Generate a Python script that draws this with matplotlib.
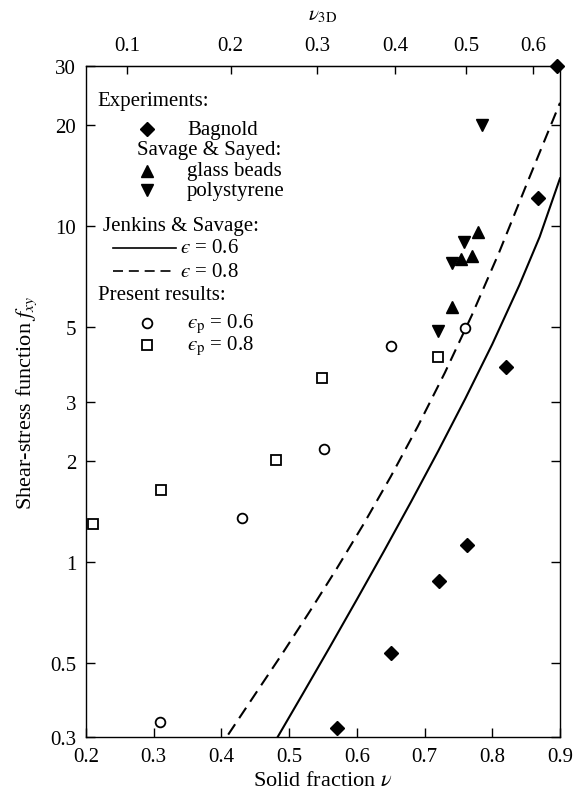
import numpy as np
import matplotlib
matplotlib.use("Agg")
import matplotlib.pyplot as plt
from matplotlib.ticker import FixedLocator, FuncFormatter, NullFormatter

plt.rcParams['font.family'] = ['Liberation Serif', 'DejaVu Serif']
plt.rcParams['mathtext.fontset'] = 'stix'

# experiments: Bagnold
bag_nu = [0.570, 0.651, 0.722, 0.763, 0.820, 0.868, 0.895]
bag_f = [0.319, 0.534, 0.875, 1.12, 3.80, 12.1, 30.0]
# Savage & Sayed, glass beads
gb_nu = [0.741, 0.754, 0.770, 0.779]
gb_f = [5.74, 8.0, 8.14, 9.6]
# Savage & Sayed, polystyrene
ps_nu = [0.720, 0.741, 0.758, 0.785]
ps_f = [4.87, 7.77, 8.96, 20.0]
# Jenkins & Savage theory
js06_nu = [0.483, 0.52, 0.56, 0.60, 0.64, 0.68, 0.72, 0.76, 0.80, 0.84, 0.87, 0.90]
js06_f = [0.300, 0.403, 0.556, 0.771, 1.074, 1.507, 2.133, 3.055, 4.446, 6.668, 9.29, 13.87]
js08_nu = [0.41, 0.45, 0.49, 0.53, 0.57, 0.61, 0.65, 0.69, 0.73, 0.77, 0.81, 0.85, 0.90]
js08_f = [0.305, 0.403, 0.532, 0.708, 0.951, 1.294, 1.791, 2.529, 3.656, 5.433, 8.337, 13.21, 23.3]
# present results
p06_nu = [0.309, 0.430, 0.551, 0.651, 0.760]
p06_f = [0.332, 1.35, 2.16, 4.39, 4.97]
p08_nu = [0.210, 0.3105, 0.480, 0.549, 0.720]
p08_f = [1.29, 1.64, 2.01, 3.52, 4.07]

xticks = [0.2, 0.3, 0.4, 0.5, 0.6, 0.7, 0.8, 0.9]
yticks = [0.3, 0.5, 1, 2, 3, 5, 10, 20, 30]
top_ticks = [0.1, 0.2, 0.3, 0.4, 0.5, 0.6]

C3D = 4.0 / (3.0 * np.sqrt(np.pi))


def to3d(nu):
    return C3D * np.abs(nu) ** 1.5


def from3d(v):
    return (np.abs(v) / C3D) ** (2.0 / 3.0)


fig = plt.figure(figsize=(5.74, 8.03), dpi=100)
ax = fig.add_axes([0.1498, 0.0809, 0.9756 - 0.1498, 0.9166 - 0.0809])

k = 'black'
dash = (0, (6, 3.5))
ax.plot(js06_nu, js06_f, '-', color=k, lw=1.5)
ax.plot(js08_nu, js08_f, color=k, lw=1.5, ls=dash)
ax.plot(bag_nu, bag_f, 'D', color=k, ms=7.5, ls='none', clip_on=False)
ax.plot(gb_nu, gb_f, '^', color=k, ms=9, ls='none')
ax.plot(ps_nu, ps_f, 'v', color=k, ms=9, ls='none')
ax.plot(p06_nu, p06_f, 'o', mfc='white', mec=k, mew=1.3, ms=7, ls='none')
ax.plot(p08_nu, p08_f, 's', mfc='white', mec=k, mew=1.3, ms=6.5, ls='none')

ax.set_yscale('log')
ax.set_xlim(0.2, 0.9)
ax.set_ylim(0.3, 30)
ax.yaxis.set_major_locator(FixedLocator(yticks))
ax.yaxis.set_major_formatter(FuncFormatter(lambda v, p: '%g' % v))
ax.yaxis.set_minor_locator(FixedLocator([1, 10]))
ax.yaxis.set_minor_formatter(NullFormatter())
ax.set_xticks(xticks)
ax.xaxis.set_major_formatter(FuncFormatter(lambda v, p: '%.1f' % v))
ax.tick_params(axis='both', which='major', direction='in', length=6.5, width=1.0,
               labelsize=15, pad=7)
ax.tick_params(axis='y', which='both', right=True, direction='in')
ax.tick_params(axis='y', which='minor', length=13, width=1.0)
ax.tick_params(axis='x', top=False)
for s in ax.spines.values():
    s.set_linewidth(1.0)

ax.set_xlabel(r'Solid fraction $\nu$', fontsize=16, labelpad=4)
ax.set_ylabel(r'Shear-stress function $f_{xy}$', fontsize=16, labelpad=8)

sec = ax.secondary_xaxis('top', functions=(to3d, from3d))
sec.set_xticks(top_ticks)
sec.xaxis.set_major_formatter(FuncFormatter(lambda v, p: '%.1f' % v))
sec.tick_params(direction='in', length=6, width=1.0, labelsize=15, pad=8)
sec.set_xlabel(r'$\nu_{\mathrm{3D}}$', fontsize=15, labelpad=12)

# legend block
tr = ax.transAxes
fs = 15
eps = '$\u03f5$'
epsp = '$\u03f5_{\\mathrm{p}}$'
ax.text(0.025, 0.948, 'Experiments:', transform=tr, fontsize=fs, va='center')
ax.plot([0.129], [0.906], 'D', color=k, ms=7.5, transform=tr)
ax.text(0.213, 0.906, 'Bagnold', transform=tr, fontsize=fs, va='center')
ax.text(0.108, 0.875, 'Savage & Sayed:', transform=tr, fontsize=fs, va='center')
ax.plot([0.129], [0.8435], '^', color=k, ms=9, transform=tr)
ax.text(0.213, 0.8435, 'glass beads', transform=tr, fontsize=fs, va='center')
ax.plot([0.129], [0.815], 'v', color=k, ms=9, transform=tr)
ax.text(0.213, 0.815, 'polystyrene', transform=tr, fontsize=fs, va='center')
ax.text(0.036, 0.763, 'Jenkins & Savage:', transform=tr, fontsize=fs, va='center')
ax.plot([0.057, 0.19], [0.729, 0.729], '-', color=k, lw=1.2, transform=tr)
ax.text(0.198, 0.729, eps + ' = 0.6', transform=tr, fontsize=fs, va='center')
ax.plot([0.057, 0.19], [0.694, 0.694], color=k, lw=1.2, ls=dash, transform=tr)
ax.text(0.198, 0.694, eps + ' = 0.8', transform=tr, fontsize=fs, va='center')
ax.text(0.025, 0.659, 'Present results:', transform=tr, fontsize=fs, va='center')
ax.plot([0.129], [0.617], 'o', mfc='white', mec=k, mew=1.3, ms=7, transform=tr)
ax.text(0.213, 0.617, epsp + ' = 0.6', transform=tr, fontsize=fs, va='center')
ax.plot([0.129], [0.584], 's', mfc='white', mec=k, mew=1.3, ms=6.5, transform=tr)
ax.text(0.213, 0.584, epsp + ' = 0.8', transform=tr, fontsize=fs, va='center')

fig.savefig('out.png', dpi=100)
